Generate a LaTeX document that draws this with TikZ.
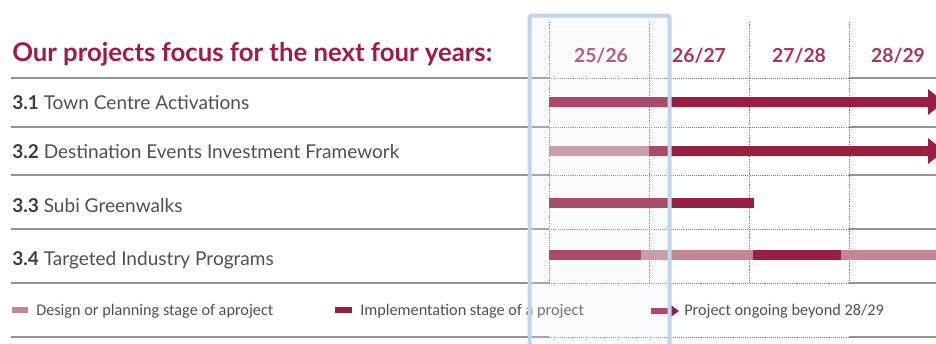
\documentclass[tikz,border=0pt]{standalone}
\usepackage{fontspec}
\setmainfont{Lato}
\newfontfamily\legendfont{Carlito}
\definecolor{crimson}{HTML}{9C1E47}
\definecolor{headred}{HTML}{A3385C}
\definecolor{implc}{HTML}{971F42}
\definecolor{designc}{HTML}{C3878F}
\definecolor{txtgray}{HTML}{505050}
\definecolor{numgray}{HTML}{3C3C3C}
\definecolor{rulegray}{HTML}{939393}
\definecolor{dotgray}{HTML}{7A7A7A}
\definecolor{hlfill}{HTML}{E6F0FA}
\definecolor{hlborder}{HTML}{BDD6EE}
\begin{document}
\begin{tikzpicture}[x=0.75pt,y=-0.75pt,
  title/.style={anchor=base west,inner sep=0pt,text=crimson,font=\bfseries\fontsize{19.3}{21}\selectfont},
  yearhead/.style={anchor=base,inner sep=0pt,text=headred,font=\bfseries\fontsize{14.5}{16}\selectfont},
  rowlabel/.style={anchor=base west,inner sep=0pt,text=txtgray,font=\fontsize{14.3}{16}\selectfont},
  legendtext/.style={anchor=base west,inner sep=0pt,text=txtgray,font=\legendfont\fontsize{12.2}{13}\selectfont},
  solidrule/.style={draw=rulegray,line width=1.6pt},
  dotrule/.style={draw=dotgray,line width=0.5pt,dash pattern=on 0.8pt off 0.8pt},
  impl/.style={fill=implc},
  design/.style={fill=designc}]
\clip (0,0) rectangle (936,343);
\fill[white] (0,0) rectangle (936,343);

% horizontal rules: solid outside the year columns, dotted inside
\foreach \y in {78,127,175,229,283,337}{
  \draw[solidrule] (11,\y) -- (549,\y);
  \draw[dotrule] (549,\y) -- (849,\y);
  \draw[solidrule] (849,\y) -- (936,\y);
}
% dotted column separators
\foreach \x in {549,649,749,849}
  \draw[dotrule] (\x,22) -- (\x,283);

% title and year headings
\node[title] (ttl) at (12,61) {Our projects focus for the next four years:};
\node[yearhead] (y1) at (601,62) {25/26};
\node[yearhead] (y2) at (699,62) {26/27};
\node[yearhead] (y3) at (799,62) {27/28};
\node[yearhead] (y4) at (898,62) {28/29};

% project rows
\node[rowlabel] (p1) at (12,109) {\textcolor{numgray}{\bfseries 3.1} Town Centre Activations};
\node[rowlabel] (p2) at (12,158) {\textcolor{numgray}{\bfseries 3.2} Destination Events Investment Framework};
\node[rowlabel] (p3) at (12,212) {\textcolor{numgray}{\bfseries 3.3} Subi Greenwalks};
\node[rowlabel] (p4) at (12,265) {\textcolor{numgray}{\bfseries 3.4} Targeted Industry Programs};

% 3.1 bar
\fill[impl] (549,97) -- (928,97) -- (928,89) -- (944,102) -- (928,115) -- (928,107) -- (549,107) -- cycle;
% 3.2 bars
\fill[design] (549,146) rectangle (649,156);
\fill[impl] (649,146) -- (928,146) -- (928,138) -- (944,151) -- (928,164) -- (928,156) -- (649,156) -- cycle;
% 3.3 bar
\fill[impl] (549,198) rectangle (754,208);
% 3.4 bars
\fill[impl] (549,250) rectangle (641,260);
\fill[design] (641,250) rectangle (753,260);
\fill[impl] (753,250) rectangle (841,260);
\fill[design] (841,250) rectangle (936,260);

% legend
\fill[design] (12,307) rectangle (28,313);
\node[legendtext] (l1) at (36,315) {Design or planning stage of aproject};
\fill[impl] (335,307) rectangle (352,313);
\node[legendtext] (l2) at (360,315) {Implementation stage of a project};
\fill[impl] (651,308) -- (668,308) -- (668,303) -- (679,311) -- (668,319) -- (668,314) -- (651,314) -- cycle;
\node[legendtext] (l3) at (684,315) {Project ongoing beyond 28/29};

% highlighted current-year column
\fill[hlfill,opacity=0.22] (529.5,15.5) rectangle (669.5,350);
\draw[hlborder,line width=3pt,rounded corners=2pt] (529.5,350) -- (529.5,15.5) -- (669.5,15.5) -- (669.5,350);
\end{tikzpicture}
\end{document}
